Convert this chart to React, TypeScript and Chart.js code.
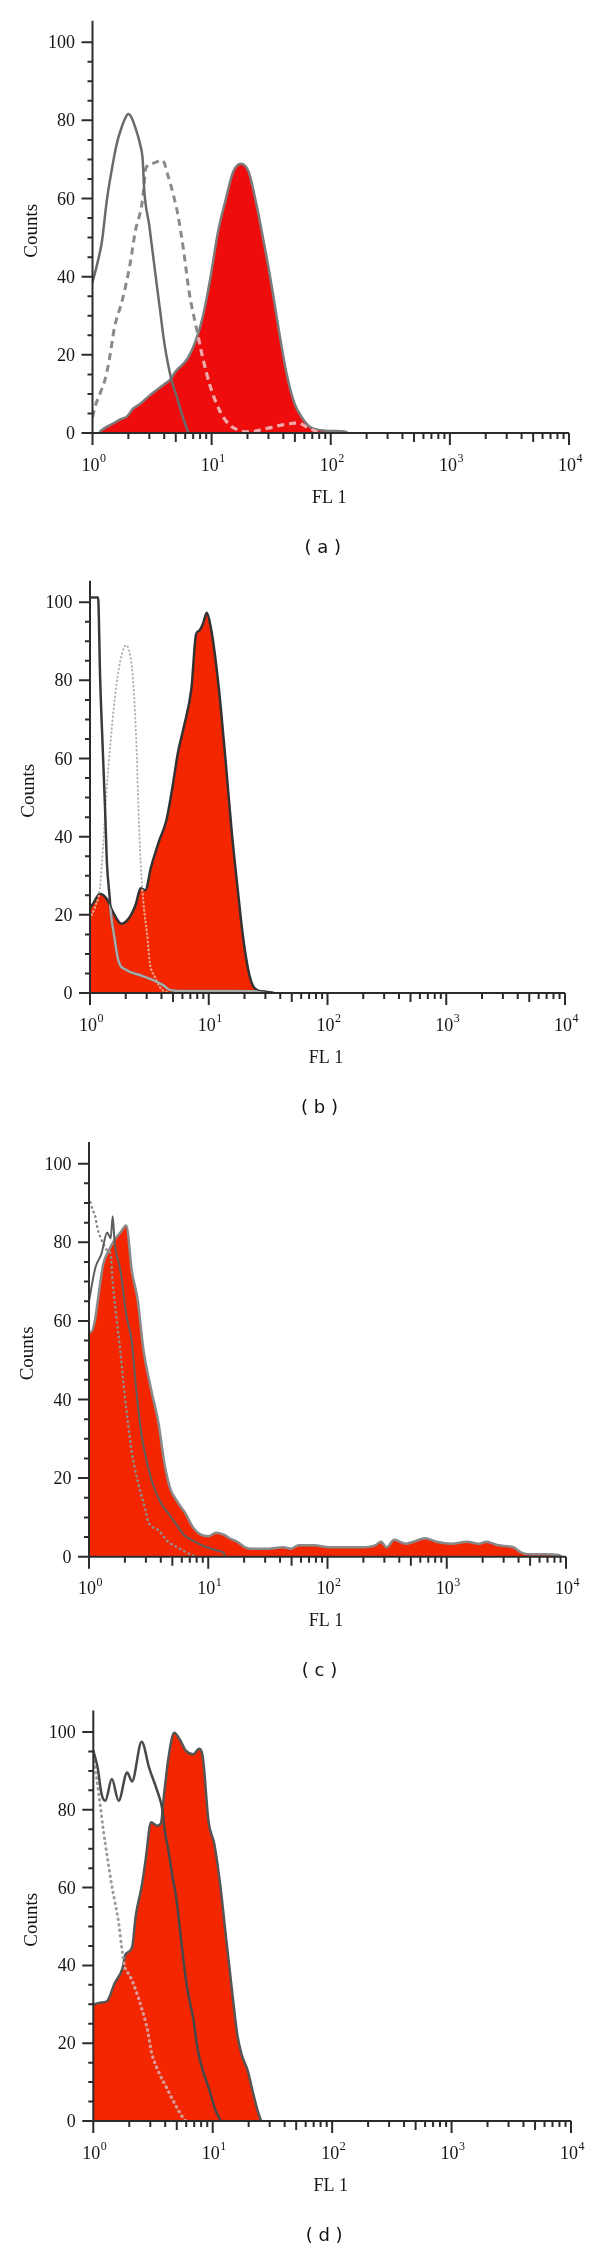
import React, { useEffect, useRef } from 'react';
import { Chart, registerables } from 'chart.js';

Chart.register(...registerables);

// ---------- axes / text ----------
const Y_TICKS = [0, 20, 40, 60, 80, 100];
const Y_MINOR_STEP = 5;
const Y_MAX = 105.5;
const X_DECADES = [0, 1, 2, 3, 4];
const X_MINOR_MULTIPLES = [2, 3, 4, 5, 6, 7, 8, 9];
const X_TITLE = 'FL 1';
const Y_TITLE = 'Counts';
const PANEL_LABELS = ['( a )', '( b )', '( c )', '( d )'];

// ---------- panel (a) ----------
const A_RED_X = [1.14, 1.3, 1.5, 1.75, 1.94, 2.2, 2.5, 3.04, 3.93, 4.47, 5.0, 6.27, 7.25, 8.4, 9.74, 11.3, 13.1, 15.2, 17.6, 20.4, 23.7, 27.5, 31.9, 36.9, 42.8, 49.6, 57.5, 66.6, 83, 104, 130, 139];
const A_RED_Y = [0.3, 1.5, 2.5, 3.6, 4.2, 6.3, 7.4, 9.7, 12.3, 13.6, 15.8, 19, 23.1, 29.5, 39.5, 51.4, 59.6, 66.9, 68.9, 66.9, 58.7, 48.6, 37.7, 25.8, 14.9, 7.6, 3.9, 1.6, 0.7, 0.5, 0.4, 0];
const A_CTRL_X = [1.0, 1.06, 1.13, 1.2, 1.32, 1.45, 1.6, 1.76, 1.9, 2.0, 2.12, 2.28, 2.5, 2.64, 2.72, 3.0, 3.33, 3.67, 4.01, 4.6, 5.1, 5.6, 6.37];
const A_CTRL_Y = [38.6, 41.5, 45, 49, 59.6, 67.3, 74.1, 78.3, 80.8, 81.6, 80.8, 78.3, 74.1, 69.8, 62, 53, 42, 32, 23, 13.6, 9.3, 5, 0];
const A_DASH_X = [1.0, 1.05, 1.16, 1.27, 1.37, 1.53, 1.78, 2.06, 2.3, 2.58, 2.68, 2.8, 3.2, 3.86, 4.33, 4.7, 5.2, 5.81, 6.49, 7.52, 8.4, 9.7, 11.7, 14.1, 16.9, 20.4, 29.5, 39.8, 53.3, 62, 77];
const A_DASH_Y = [4, 6.7, 10.2, 13.5, 18, 27, 34, 43, 52, 58, 62, 67.7, 69, 69.8, 65.6, 61.7, 56, 46.8, 35.9, 26.3, 19.4, 12.1, 5.7, 2.1, 0.7, 0.3, 1.2, 2.1, 2.6, 1.6, 0.3];

// ---------- panel (b) ----------
const B_RED_X = [1.0, 1.07, 1.21, 1.39, 1.55, 1.84, 2.17, 2.43, 2.67, 2.92, 3.27, 3.8, 4.4, 4.93, 5.51, 6.16, 7.15, 7.82, 8.3, 8.94, 9.63, 10.4, 11.2, 12.5, 14.0, 15.6, 17.5, 19.5, 21.9, 24.4, 29.5, 35.5];
const B_RED_Y = [21.8, 23, 25.4, 24, 20.9, 17.7, 19.5, 22.7, 26.8, 26.3, 32.3, 38.7, 44.2, 52.4, 61.6, 68, 78, 91.8, 92.7, 94.5, 97.3, 93.6, 87.2, 74.4, 57.9, 41.4, 26.8, 14, 4.8, 1.2, 0.3, 0];
const B_CTRL_X = [1.0, 1.17, 1.19, 1.21, 1.27, 1.34, 1.39, 1.46, 1.5, 1.61, 1.73, 2.03, 2.63, 3.4, 4.13, 4.7, 6.0, 15, 30, 35];
const B_CTRL_Y = [101.2, 101.2, 95, 83.5, 65.2, 46.9, 33, 25, 20.4, 14, 8.4, 5.9, 4.6, 3.3, 2.0, 0.8, 0.5, 0.5, 0.3, 0];
const B_DOT_X = [1.0, 1.1, 1.21, 1.29, 1.37, 1.5, 1.67, 1.84, 2.01, 2.25, 2.37, 2.48, 2.56, 2.67, 2.82, 3.03, 3.19, 3.51, 3.94, 4.57];
const B_DOT_Y = [19, 22, 26.8, 37.8, 50.6, 65.2, 79, 86.3, 89, 83.5, 74.4, 60.7, 46.9, 33.2, 23, 14.9, 7.7, 4.2, 1.2, 0];

// ---------- panel (c) ----------
const C_RED_X = [1.0, 1.04, 1.117, 1.221, 1.315, 1.469, 1.641, 1.834, 2.05, 2.29, 2.56, 2.86, 3.31, 3.84, 4.29, 4.79, 5.56, 6.44, 7.48, 8.66, 10.0, 11.66, 13.5, 15.1, 17.5, 20.3, 23.5, 31.6, 42.5, 49.3, 57.3, 76.9, 103, 139, 187, 251, 281, 313, 363, 454, 526, 659, 820, 1100, 1481, 1855, 2150, 2700, 3620, 4200, 4880, 6560, 8790, 9160];
const C_RED_Y = [57.2, 57.2, 59.9, 68, 74.4, 78, 80.7, 82.5, 84.3, 72.6, 65.3, 52.7, 42.7, 33.7, 23.7, 17.4, 13.8, 11, 7.4, 5.6, 5.2, 6.1, 5.6, 4.7, 3.8, 2.4, 2, 2, 2.4, 2, 2.9, 2.9, 2.4, 2.4, 2.4, 2.9, 3.8, 2.4, 4.3, 3.3, 3.8, 4.7, 3.8, 3.3, 3.8, 3.3, 3.8, 2.9, 2.4, 1.1, 0.6, 0.6, 0.4, 0];
const C_CTRL_X = [1.0, 1.13, 1.27, 1.42, 1.52, 1.58, 1.64, 1.84, 2.05, 2.29, 2.47, 2.76, 3.08, 3.44, 3.99, 4.63, 5.37, 6.22, 7.77, 9.7, 12.1, 13.5, 13.9];
const C_CTRL_Y = [65, 73.5, 77, 82.5, 81, 86.6, 80, 72.6, 61.7, 54.5, 43.6, 30.9, 23.7, 18.3, 13.8, 11, 8.3, 5.6, 3.8, 2.4, 1.5, 0.9, 0];
const C_DOT_X = [1.03, 1.08, 1.12, 1.18, 1.27, 1.42, 1.52, 1.58, 1.7, 1.84, 1.98, 2.13, 2.29, 2.56, 2.97, 3.14, 3.8, 4.61, 5.43, 6.36, 7.8];
const C_DOT_Y = [90.2, 88, 87, 83.4, 80.7, 78, 77, 69.9, 60.8, 51.8, 41.8, 33.7, 26.4, 19.2, 12, 8.9, 6.8, 3.8, 2.5, 1.3, 0];

// ---------- panel (d) ----------
const D_RED_X = [1.0, 1.13, 1.30, 1.51, 1.75, 1.86, 2.11, 2.27, 2.54, 2.73, 3.05, 3.41, 3.67, 3.95, 4.26, 4.76, 5.32, 5.95, 6.88, 7.69, 8.27, 9.24, 10.3, 11.6, 12.9, 14.5, 16.1, 17.5, 19.6, 21.5, 23.7, 25.4];
const D_RED_Y = [29.9, 30.4, 30.8, 35.4, 39.1, 42.8, 44.6, 52.9, 60.3, 66.7, 76.8, 75.9, 76.4, 85.1, 93.4, 99.8, 98, 95.2, 94.3, 95.7, 93.4, 76.8, 71.3, 60.3, 47.4, 33.6, 22, 17, 13, 7.9, 2.8, 0];
const D_CTRL_X = [1.0, 1.09, 1.17, 1.26, 1.43, 1.63, 1.92, 2.11, 2.54, 2.94, 3.41, 3.81, 3.95, 4.26, 4.59, 4.94, 5.32, 5.7, 6.16, 6.88, 7.5, 8.26, 9.39, 10.55, 11.7];
const D_CTRL_Y = [95.2, 90.7, 84.2, 82.3, 87.9, 82.3, 89.6, 87.3, 97.5, 90.7, 85.1, 79.6, 75, 69.5, 63, 57.5, 49.2, 41, 33.6, 26.2, 18.2, 13, 7.9, 2.75, 0];
const D_DOT_X = [1.0, 1.05, 1.11, 1.14, 1.21, 1.3, 1.4, 1.51, 1.63, 1.73, 1.82, 2.03, 2.27, 2.54, 2.84, 3.07, 3.48, 4.09, 4.8, 5.62, 5.94];
const D_DOT_Y = [93.8, 89.6, 84.2, 81.4, 75, 68.5, 62.1, 56.6, 51, 44.6, 40, 37.3, 33.6, 29, 23.5, 17.7, 13, 8.7, 4.5, 0.9, 0];

const toPoints = (xs: number[], ys: number[]) => xs.map((x, i) => ({ x, y: ys[i] }));

const RED_A = 'rgb(238,12,12)';
const RED_BCD = 'rgb(243,38,0)';

const PANELS = [
  {
    label: PANEL_LABELS[0],
    box: { canvasTop: 0, height: 560, left: 92.5, right: 569, top: 20.7, bottom: 433 },
    red: { x: A_RED_X, y: A_RED_Y, fill: RED_A, line: '#7c7c7c', width: 2.5 },
    lines: [
      { x: A_DASH_X, y: A_DASH_Y, color: '#8a8a8a', width: 3, dash: [7, 5], cap: 'butt', inside: 'rgba(248,165,165,1)' },
      { x: A_CTRL_X, y: A_CTRL_Y, color: '#6a6a6a', width: 2.5, dash: [], cap: 'round', inside: null },
    ],
  },
  {
    label: PANEL_LABELS[1],
    box: { canvasTop: 560, height: 562, left: 90, right: 565, top: 580.7, bottom: 993 },
    red: { x: B_RED_X, y: B_RED_Y, fill: RED_BCD, line: '#333333', width: 2.5 },
    lines: [
      { x: B_DOT_X, y: B_DOT_Y, color: '#b2b2b2', width: 2, dash: [0.5, 3.5], cap: 'round', inside: 'rgba(250,150,120,1)' },
      { x: B_CTRL_X, y: B_CTRL_Y, color: '#3a3a3a', width: 2.5, dash: [], cap: 'round', inside: '#a9a9a9' },
    ],
  },
  {
    label: PANEL_LABELS[2],
    box: { canvasTop: 1122, height: 563, left: 89, right: 566, top: 1142.1, bottom: 1556.7 },
    red: { x: C_RED_X, y: C_RED_Y, fill: RED_BCD, line: '#8a8a8a', width: 2.5 },
    lines: [
      { x: C_DOT_X, y: C_DOT_Y, color: '#8e8e8e', width: 2.5, dash: [0.5, 4.5], cap: 'round', inside: null },
      { x: C_CTRL_X, y: C_CTRL_Y, color: '#5e5e5e', width: 2, dash: [], cap: 'round', inside: null },
    ],
  },
  {
    label: PANEL_LABELS[3],
    box: { canvasTop: 1685, height: 564, left: 93.3, right: 571, top: 1710.6, bottom: 2121 },
    red: { x: D_RED_X, y: D_RED_Y, fill: RED_BCD, line: '#555555', width: 2.5 },
    lines: [
      { x: D_DOT_X, y: D_DOT_Y, color: '#9c9c9c', width: 3, dash: [0.5, 5], cap: 'round', inside: 'rgba(225,150,145,1)' },
      { x: D_CTRL_X, y: D_CTRL_Y, color: '#484848', width: 2.5, dash: [], cap: 'round', inside: null },
    ],
  },
];

// Re-stroke selected lines in a lighter colour where they pass over the red fill
const insidePlugin = {
  id: 'insideRed',
  afterDatasetsDraw(chart: any) {
    const ds = chart.data.datasets;
    const fi = ds.findIndex((d: any) => d.fill === 'origin');
    if (fi < 0) return;
    const fm = chart.getDatasetMeta(fi);
    const pts = fm.data;
    if (!pts.length) return;
    const ctx = chart.ctx;
    const ca = chart.chartArea;
    const base = chart.scales.y.getPixelForValue(0);
    const trace = (meta: any) => {
      if (meta.dataset && typeof meta.dataset.path === 'function') {
        meta.dataset.path(ctx);
      } else {
        meta.data.forEach((p: any, i: number) => (i ? ctx.lineTo(p.x, p.y) : ctx.moveTo(p.x, p.y)));
      }
    };
    ctx.save();
    ctx.beginPath();
    ctx.rect(ca.left, ca.top, ca.right - ca.left, ca.bottom - ca.top);
    ctx.clip();
    ctx.beginPath();
    trace(fm);
    ctx.lineTo(pts[pts.length - 1].x, base);
    ctx.lineTo(pts[0].x, base);
    ctx.closePath();
    ctx.clip();
    ds.forEach((d: any, i: number) => {
      if (!d.insideColor) return;
      const m = chart.getDatasetMeta(i);
      ctx.beginPath();
      trace(m);
      ctx.strokeStyle = d.insideColor;
      ctx.lineWidth = d.borderWidth;
      ctx.setLineDash(d.borderDash || []);
      ctx.lineCap = d.borderCapStyle || 'butt';
      ctx.lineJoin = 'round';
      ctx.stroke();
    });
    ctx.restore();
  },
};

const makeAxesPlugin = (label: string) => ({
  id: 'fcsAxes',
  afterDraw(chart: any) {
    const ctx = chart.ctx;
    const ca = chart.chartArea;
    const xs = chart.scales.x;
    const ys = chart.scales.y;
    const x0 = ca.left;
    const yb = ys.getPixelForValue(0);
    const yt = ys.getPixelForValue(Y_MAX);
    const xEnd = xs.getPixelForValue(Math.pow(10, X_DECADES[X_DECADES.length - 1]));
    ctx.save();
    ctx.strokeStyle = '#2c2c2c';
    ctx.lineWidth = 2;
    ctx.lineCap = 'butt';
    ctx.setLineDash([]);
    ctx.beginPath();
    ctx.moveTo(x0, yt);
    ctx.lineTo(x0, yb);
    ctx.moveTo(x0, yb);
    ctx.lineTo(xEnd, yb);
    const yTop = Y_TICKS[Y_TICKS.length - 1];
    for (let v = 0; v <= yTop; v += Y_MINOR_STEP) {
      const py = ys.getPixelForValue(v);
      const len = Y_TICKS.includes(v) ? 11 : 5;
      ctx.moveTo(x0 - len, py);
      ctx.lineTo(x0, py);
    }
    X_DECADES.forEach((d, idx) => {
      const px = xs.getPixelForValue(Math.pow(10, d));
      ctx.moveTo(px, yb);
      ctx.lineTo(px, yb + 12);
      if (idx < X_DECADES.length - 1) {
        X_MINOR_MULTIPLES.forEach((m) => {
          const p = xs.getPixelForValue(m * Math.pow(10, d));
          const len = m === 5 ? 9 : 6;
          ctx.moveTo(p, yb);
          ctx.lineTo(p, yb + len);
        });
      }
    });
    ctx.stroke();

    ctx.fillStyle = '#151515';
    ctx.textBaseline = 'alphabetic';
    // y tick labels
    ctx.font = '18px "Liberation Serif"';
    ctx.textAlign = 'right';
    Y_TICKS.forEach((v) => ctx.fillText(String(v), x0 - 17.5, ys.getPixelForValue(v) + 6));
    // x tick labels: 10^n
    ctx.textAlign = 'left';
    X_DECADES.forEach((d) => {
      const px = xs.getPixelForValue(Math.pow(10, d));
      ctx.font = '18px "Liberation Serif"';
      const w = ctx.measureText('10').width;
      ctx.fillText('10', px - 11, yb + 37.7);
      ctx.font = '12px "Liberation Serif"';
      ctx.fillText(String(d), px - 11 + w + 0.5, yb + 29);
    });
    // axis titles
    ctx.font = '18px "Liberation Serif"';
    ctx.textAlign = 'center';
    ctx.fillText(X_TITLE, (ca.left + ca.right) / 2 - 1.5, yb + 69.7);
    ctx.save();
    ctx.translate(x0 - 56, (yt + yb) / 2 + 4);
    ctx.rotate(-Math.PI / 2);
    ctx.font = '19px "Liberation Serif"';
    ctx.fillText(Y_TITLE, 0, 0);
    ctx.restore();
    // panel label
    ctx.font = '18px "DejaVu Sans"';
    ctx.fillStyle = '#111';
    ctx.fillText(label, (ca.left + ca.right) / 2 - 8, yb + 119.5);
    ctx.restore();
  },
});

function Panel({ cfg }: { cfg: any }) {
  const ref = useRef<HTMLCanvasElement | null>(null);
  const b = cfg.box;
  useEffect(() => {
    const canvas = ref.current;
    if (!canvas) return;
    const datasets: any[] = [
      {
        data: toPoints(cfg.red.x, cfg.red.y),
        fill: 'origin',
        backgroundColor: cfg.red.fill,
        borderColor: cfg.red.line,
        borderWidth: cfg.red.width,
        pointRadius: 0,
        cubicInterpolationMode: 'monotone',
        borderJoinStyle: 'round',
        order: 10,
      },
      ...cfg.lines.map((l: any, i: number) => ({
        data: toPoints(l.x, l.y),
        fill: false,
        borderColor: l.color,
        borderWidth: l.width,
        borderDash: l.dash,
        borderCapStyle: l.cap,
        borderJoinStyle: 'round',
        pointRadius: 0,
        cubicInterpolationMode: 'monotone',
        order: cfg.lines.length - i,
        insideColor: l.inside,
      })),
    ];
    const chart = new Chart(canvas, {
      type: 'line',
      data: { datasets },
      options: {
        animation: false,
        responsive: false,
        maintainAspectRatio: false,
        events: [],
        layout: {
          padding: {
            left: b.left,
            right: 600 - b.right,
            top: b.top - b.canvasTop,
            bottom: b.canvasTop + b.height - b.bottom,
          },
        },
        scales: {
          x: { type: 'logarithmic', min: 1, max: 10000, display: false },
          y: { type: 'linear', min: 0, max: Y_MAX, display: false },
        },
        plugins: {
          legend: { display: false },
          tooltip: { enabled: false },
          title: { display: false },
        },
      } as any,
      plugins: [insidePlugin as any, makeAxesPlugin(cfg.label) as any],
    });
    return () => chart.destroy();
  }, []);
  return (
    <canvas
      ref={ref}
      width={600}
      height={b.height}
      style={{ position: 'absolute', left: 0, top: b.canvasTop, width: 600, height: b.height, display: 'block' }}
    />
  );
}

export default function App() {
  return (
    <div style={{ position: 'absolute', left: 0, top: 0, width: 600, height: 2249, background: '#ffffff' }}>
      {PANELS.map((p, i) => (
        <Panel key={i} cfg={p} />
      ))}
    </div>
  );
}
